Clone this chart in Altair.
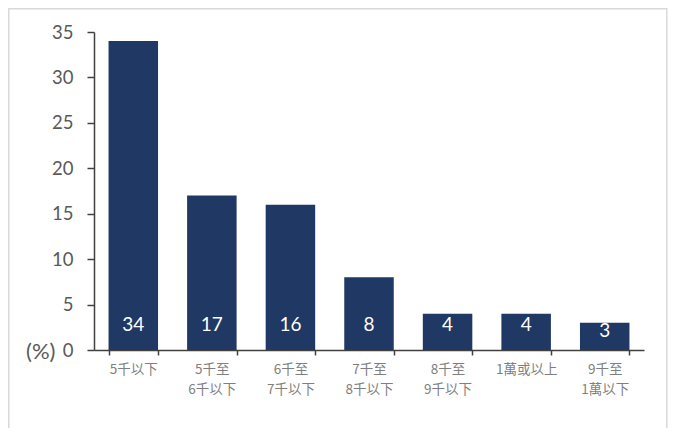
import altair as alt
import pandas as pd

categories = ["5千以下", "5千至\n6千以下", "6千至\n7千以下", "7千至\n8千以下",
              "8千至\n9千以下", "1萬或以上", "9千至\n1萬以下"]
values = [34, 17, 16, 8, 4, 4, 3]
y_ticks = [0, 5, 10, 15, 20, 25, 30, 35]

df = pd.DataFrame({"cat": categories, "v": values})

BAR = "#203864"
W, H = 550, 318

base = alt.Chart(df).encode(
    x=alt.X("cat:N", sort=categories,
            scale=alt.Scale(paddingInner=0.37, paddingOuter=0.185),
            axis=alt.Axis(title=None, labelAngle=0, tickBand="extent",
                          labelExpr="split(datum.label, '\\n')",
                          labelFont="Noto Sans CJK TC", labelFontSize=13.5,
                          labelColor="#7f7f7f", labelLineHeight=20,
                          labelPadding=7, tickSize=5, tickColor="#404040",
                          tickWidth=1.5, domainColor="#404040", domainWidth=1.5,
                          labelBaseline="top"))
)

bars = base.mark_bar(color=BAR).encode(
    y=alt.Y("v:Q", scale=alt.Scale(domain=[0, 35], nice=False),
            axis=alt.Axis(values=y_ticks, grid=False, title="(%)",
                          titleAngle=0, titleX=-39, titleY=H + 1,
                          titleAlign="right", titleBaseline="middle",
                          titleFont="Lato", titleFontSize=22,
                          titleFontWeight="normal", titleColor="#595959",
                          labelFont="Lato", labelFontSize=18.5,
                          labelColor="#595959", labelPadding=14,
                          tickSize=7, tickColor="#404040", tickWidth=1.5,
                          domainColor="#404040", domainWidth=1.5))
)

labels = base.transform_calculate(
    ly="min(datum.v - 0.87, 2.75)"
).mark_text(color="white", font="Lato", fontSize=19, baseline="middle").encode(
    y=alt.Y("ly:Q"),
    text=alt.Text("v:Q"),
)

border = alt.Chart(df).mark_rect(fill=None, stroke="#d9d9d9", strokeWidth=1.5).encode(
    x=alt.value(-85.2), x2=alt.value(572.8), y=alt.value(-23.2), y2=alt.value(420)
).transform_filter("datum.cat == '5千以下'")

chart = alt.layer(border, bars, labels).properties(
    width=W, height=H,
    autosize=alt.AutoSizeParams(type="none"),
    padding={"left": 86, "top": 24, "right": 24, "bottom": 78},
    background="white",
).configure_view(stroke=None)

chart.save("out.html", embed_options={"renderer": "svg", "actions": False})
